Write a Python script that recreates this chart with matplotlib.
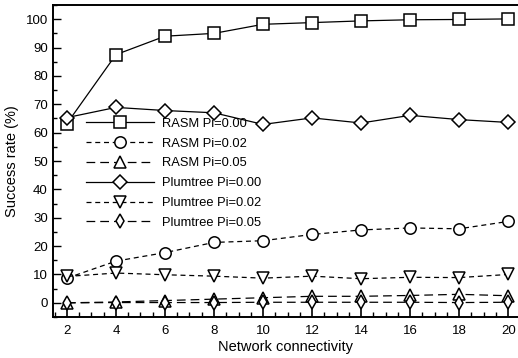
import numpy as np
import matplotlib
matplotlib.use('Agg')
from matplotlib import pyplot as plt
from matplotlib.ticker import MultipleLocator

plt.rcParams['font.family'] = ['Liberation Sans', 'DejaVu Sans']

connectivity = [2, 4, 6, 8, 10, 12, 14, 16, 18, 20]

rasm_000 = [63.2, 87.5, 94.0, 95.0, 98.2, 98.8, 99.4, 99.8, 99.9, 100.1]
rasm_002 = [8.7, 14.7, 17.7, 21.3, 21.9, 24.1, 25.7, 26.4, 26.1, 28.7]
rasm_005 = [0.0, 0.3, 0.8, 1.3, 1.8, 2.3, 2.3, 2.6, 3.0, 2.5]
plum_000 = [65.3, 68.9, 67.8, 67.0, 62.9, 65.2, 63.4, 66.1, 64.6, 63.6]
plum_002 = [9.3, 10.5, 9.9, 9.4, 8.7, 9.4, 8.5, 9.0, 8.9, 10.0]
plum_005 = [0.0, 0.1, 0.1, 0.1, 0.2, 0.2, 0.2, 0.2, 0.1, 0.2]

series = [
    ('RASM Pi=0.00', rasm_000, '-', 's'),
    ('RASM Pi=0.02', rasm_002, (0, (4, 3)), 'o'),
    ('RASM Pi=0.05', rasm_005, (0, (7, 4)), '^'),
    ('Plumtree Pi=0.00', plum_000, '-', 'D'),
    ('Plumtree Pi=0.02', plum_002, (0, (4, 3)), 'v'),
    ('Plumtree Pi=0.05', plum_005, (0, (7, 4)), 'd'),
]

fig = plt.figure(figsize=(5.18, 3.58), dpi=100)
ax = fig.add_axes([0.1017, 0.1145, 0.8983, 0.8715])

for label, values, ls, marker in series:
    size = 7.2 if marker in ('D', 'd') else 8.2
    ax.plot(connectivity, values, linestyle=ls, color='black', linewidth=0.9,
            marker=marker, markersize=size, markerfacecolor='white',
            markeredgecolor='black', markeredgewidth=1.1, label=label)

ax.set_xlim(1.42, 20.4)
ax.set_ylim(-5, 105)
ax.xaxis.set_major_locator(MultipleLocator(2))
ax.xaxis.set_minor_locator(MultipleLocator(0.5))
ax.yaxis.set_major_locator(MultipleLocator(10))
ax.yaxis.set_minor_locator(MultipleLocator(5))

ax.tick_params(axis='x', which='major', direction='in', length=11, width=1.2, labelsize=9.5, pad=6)
ax.tick_params(axis='x', which='minor', direction='in', length=3.5, width=1)
ax.tick_params(axis='y', which='major', direction='in', length=5.5, width=1, labelsize=9.5)
ax.tick_params(axis='y', which='minor', direction='in', length=3, width=1)

ax.spines['right'].set_visible(False)
for side in ('left', 'bottom', 'top'):
    ax.spines[side].set_linewidth(1.4)

ax.set_xlabel('Network connectivity', fontsize=10.5, labelpad=2)
ax.set_ylabel('Success rate (%)', fontsize=10.5, labelpad=5)

ax.legend(loc='upper left', bbox_to_anchor=(0.06, 0.655), frameon=False,
          fontsize=9.3, handlelength=5.3, handletextpad=0.6, labelspacing=0.6,
          borderaxespad=0)

fig.savefig('out.png', dpi=100)
